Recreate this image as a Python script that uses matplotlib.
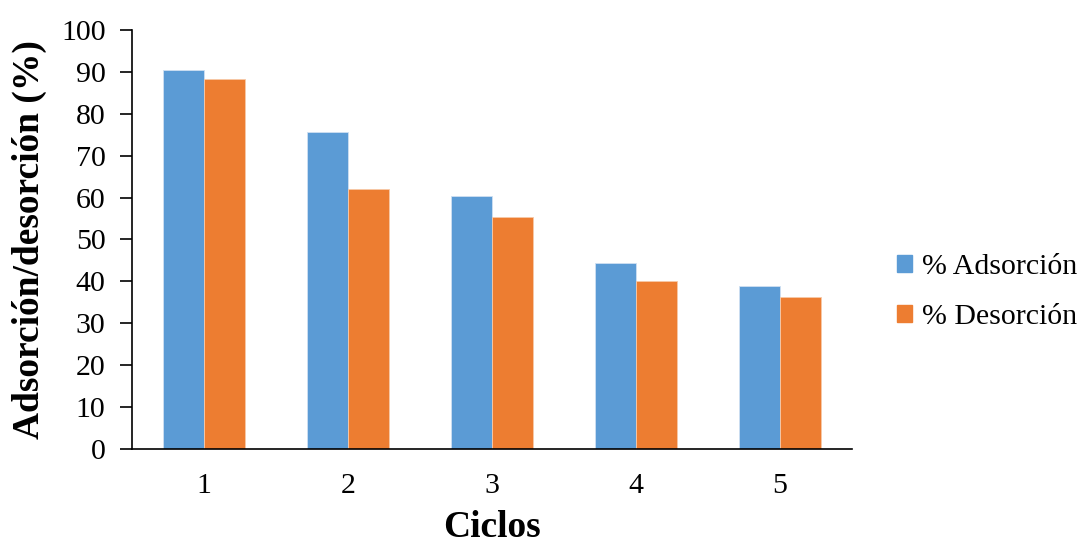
import numpy as np
import matplotlib.pyplot as plt
from matplotlib.patches import Patch

plt.rcParams['font.family'] = ['Liberation Serif', 'DejaVu Serif']

ciclos = ['1', '2', '3', '4', '5']
adsorcion = [90.4, 75.7, 60.4, 44.5, 38.9]
desorcion = [88.2, 62.0, 55.4, 40.0, 36.2]

blue = '#5b9bd5'
orange = '#ed7d31'

fig = plt.figure(figsize=(10.9, 5.46), dpi=100)
ax = fig.add_axes([132 / 1090, 1 - 449 / 546, 720 / 1090, 419 / 546])

x = np.arange(len(ciclos))
w = 0.285
ax.bar(x - w / 2, adsorcion, w, color=blue, edgecolor='#cfe0f2', linewidth=0.6)
ax.bar(x + w / 2, desorcion, w, color=orange, edgecolor='#f7c9a8', linewidth=0.6)

ax.set_xlim(-0.5, len(ciclos) - 0.5)
ax.set_ylim(0, 100)
ax.set_yticks(range(0, 101, 10))
ax.set_xticks(x)
ax.set_xticklabels(ciclos)
ax.tick_params(axis='y', direction='out', length=9, width=1.2, labelsize=21.5, pad=10)
ax.tick_params(axis='x', length=0, labelsize=21.5, pad=17)

for side in ('top', 'right'):
    ax.spines[side].set_visible(False)
ax.spines['left'].set_linewidth(1.2)
ax.spines['bottom'].set_linewidth(1.2)

ax.set_xlabel('Ciclos', fontsize=27, fontweight='bold', labelpad=8)
ax.set_ylabel('Adsorción/desorción (%)', fontsize=27, fontweight='bold', labelpad=10)

handles = [Patch(color=blue, label='% Adsorción'), Patch(color=orange, label='% Desorción')]
fig.legend(handles=handles, loc='center left', bbox_to_anchor=(870 / 1090, 1 - 292 / 546),
           frameon=False, fontsize=21.5, handlelength=0.5, handleheight=0.5,
           handletextpad=0.33, labelspacing=0.82)

fig.savefig('out.png', dpi=100)
